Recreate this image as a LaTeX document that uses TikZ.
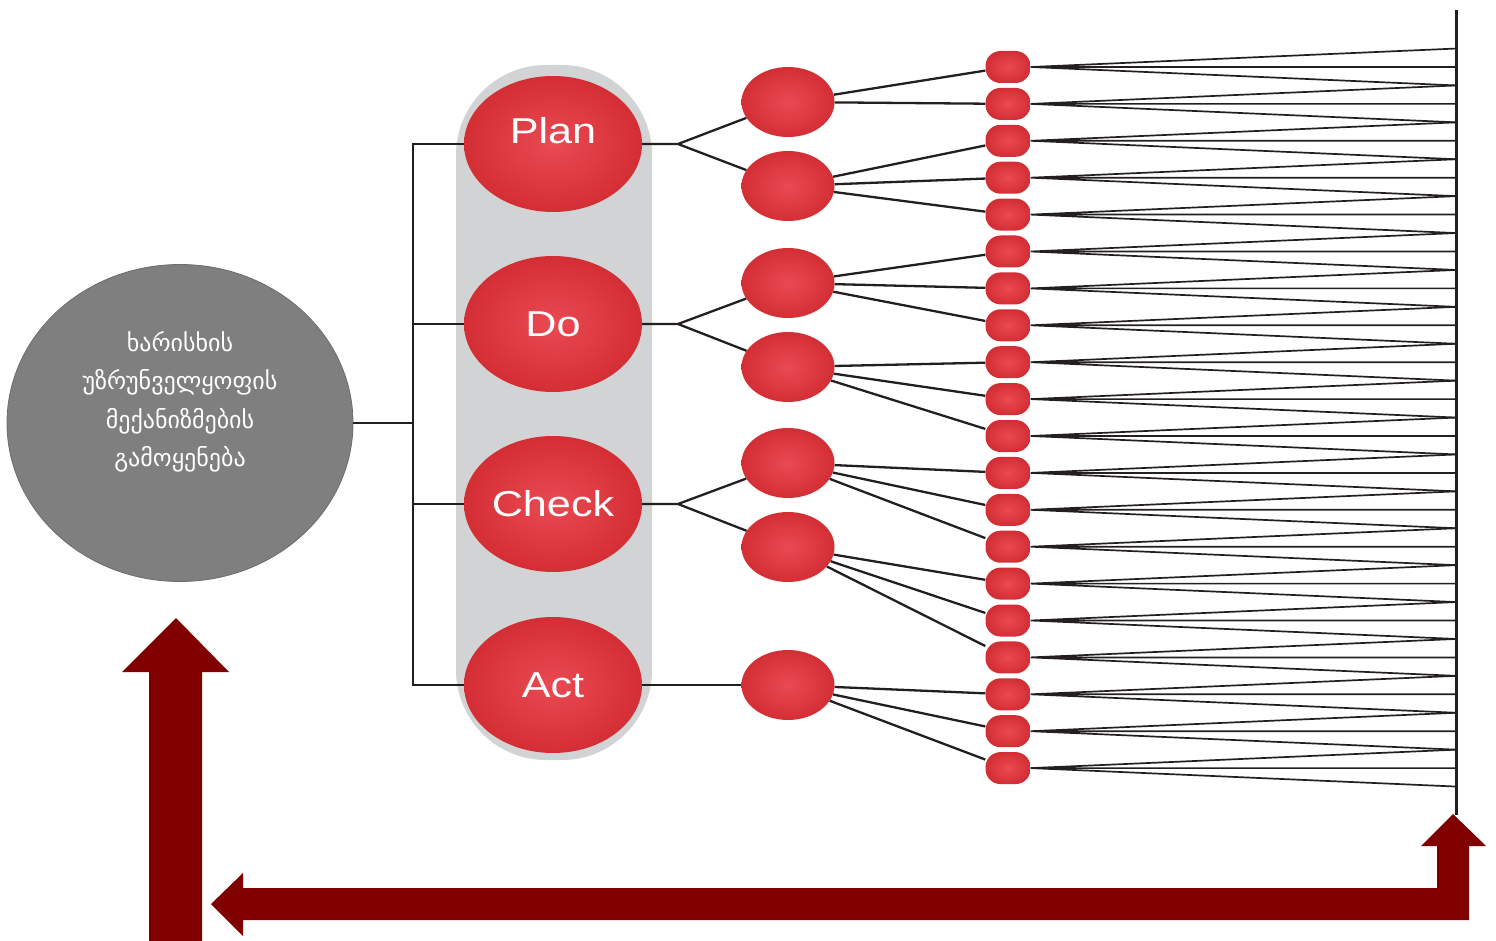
\documentclass[tikz,border=0pt]{standalone}
\usepackage{fontspec}
\setmainfont{Liberation Sans}
\newfontfamily\pdcafont[FakeStretch=1.2]{Liberation Sans}
\newfontfamily\geofont{DejaVu Sans}
\usepackage{tikz}
\usetikzlibrary{positioning, shapes.geometric, calc}
\usepackage{xcolor}
\definecolor{pdcared}{HTML}{D42E35}
\definecolor{pdcalight}{HTML}{EA4A53}
\definecolor{pillgray}{HTML}{D1D3D4}
\definecolor{maingray}{HTML}{7F7F7F}
\definecolor{loopred}{HTML}{800000}
\definecolor{ink}{HTML}{231F20}

\begin{document}
\begin{tikzpicture}[
    x=1pt, y=-1pt,
    redball/.style={inner color=pdcalight, outer color=pdcared, inner sep=0pt},
    bignode/.style={redball, ellipse, minimum width=178pt, minimum height=136pt,
        text=white, font=\pdcafont\fontsize{36}{38}\selectfont},
    midnode/.style={redball, ellipse, minimum width=93pt, minimum height=70pt},
    smallnode/.style={redball, rectangle, rounded corners=15pt, minimum width=45pt, minimum height=32pt},
    mainnode/.style={ellipse, fill=maingray, draw=maingray!85!black, line width=0.8pt,
        minimum width=346pt, minimum height=317pt},
    geotext/.style={text=white, align=center, font=\geofont\fontsize{24}{38.5}\selectfont},
    link/.style={draw=ink, line width=2.3pt},
    fan/.style={draw=ink, line width=1.7pt}
]
\useasboundingbox (0,0) rectangle (1496,941);

% Background
\fill[pillgray, rounded corners=90pt] (456,65) rectangle (652,760);

% Nodes
\node[mainnode, label={[geotext, yshift=21pt]center:ხარისხის\\უზრუნველყოფის\\მექანიზმების\\გამოყენება}] (q) at (180,423) {};

\node[bignode, label={[text=white, font=\pdcafont\fontsize{36}{38}\selectfont, yshift=13pt]center:Plan}] (plan) at (553,144) {};
\node[bignode] (do) at (553,324) {Do};
\node[bignode] (check) at (553,504) {Check};
\node[bignode] (act) at (553,685) {Act};

\node[midnode] (m1) at (788,102) {};
\node[midnode] (m2) at (788,186) {};
\node[midnode] (m3) at (788,283) {};
\node[midnode] (m4) at (788,367) {};
\node[midnode] (m5) at (788,463) {};
\node[midnode] (m6) at (788,547) {};
\node[midnode] (m7) at (788,685) {};

\foreach \i in {1,...,20}
    \node[smallnode] (s\i) at (1008, {67+(\i-1)*36.9}) {};

% Bar
\coordinate (bartop) at (1456,10);
\coordinate (barbot) at (1456,815);
\draw[ink, line width=3pt] (bartop) -- (barbot);
\foreach \j in {0,...,40}
    \coordinate (b\j) at (1456, {48.55+\j*18.45});

% Links
\draw[link] (plan.west) -- ++(-51,0) coordinate (bt) |- (act.west);
\draw[link] (do.west) -- (do.west -| bt);
\draw[link] (check.west) -- (check.west -| bt);
\draw[link] (q.east) -- (q.east -| bt);

\coordinate (f1) at (678,144);
\coordinate (f2) at (678,324);
\coordinate (f3) at (678,504);
\draw[link] (plan) -- (f1) -- (m1) (f1) -- (m2);
\draw[link] (do) -- (f2) -- (m3) (f2) -- (m4);
\draw[link] (check) -- (f3) -- (m5) (f3) -- (m6);
\draw[link] (act) -- (m7);

\foreach \m/\a/\b in {1/1/2, 2/3/5, 3/6/8, 4/9/11, 5/12/14, 6/15/17, 7/18/20}
    \foreach \s in {\a,...,\b}
        \draw[link] (m\m) -- (s\s);

\foreach \i [evaluate=\i as \p using int(2*\i-2), evaluate=\i as \h using int(2*\i-1),
             evaluate=\i as \n using int(2*\i)] in {1,...,20}
    \draw[fan] (b\p) -- (s\i.east) -- (b\n) (s\i.east) -- (b\h);

% Feedback arrows
\fill[loopred] (149,945) -- (149,672) -- (122,672) -- (176,618) -- (229,672)
    -- (202,672) -- (202,945) -- cycle;
\fill[loopred] (211,904) -- (243,873) -- (243,888) -- (1437,888) -- (1437,846)
    -- (1421,846) -- (1453,814) -- (1486,846) -- (1469,846) -- (1469,920)
    -- (243,920) -- (243,936) -- cycle;

\end{tikzpicture}
\end{document}
